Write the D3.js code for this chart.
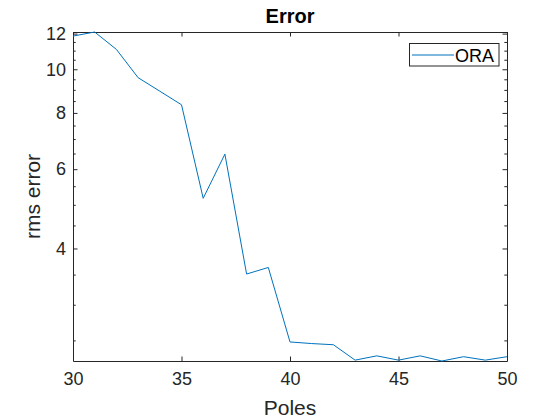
<!DOCTYPE html>
<html lang="en">
	<head>
		<meta charset="utf-8">
		<title>Error</title>
		<script type="text/javascript" src="https://d3js.org/d3.v7.min.js"></script>
		<style type="text/css">
			body { margin: 0; background: #fff; }
			text { font-family: "Liberation Sans", Arial, sans-serif; fill: #262626; }
			.axis path, .axis line { stroke: #262626; }
		</style>
	</head>
	<body>
		<script type="text/javascript">

			// data
			var poles = [30, 31, 32, 33, 34, 35, 36, 37, 38, 39, 40, 41, 42, 43, 44, 45, 46, 47, 48, 49, 50];
			var rmsError = [11.85, 12.1, 11.07, 9.58, 8.94, 8.34, 5.17, 6.48, 3.51, 3.63, 2.48, 2.46, 2.445,
			                2.26, 2.31, 2.26, 2.31, 2.25, 2.30, 2.26, 2.30];
			var xTicks = [30, 35, 40, 45, 50];
			var yTicks = [4, 6, 8, 10, 12];
			var yMinorTicks = [2.5, 3, 3.5, 4.5, 5, 5.5, 6.5, 7, 7.5, 8.5, 9, 9.5, 10.5, 11, 11.5];
			var seriesName = "ORA";

			var w = 560, h = 420;
			var mLeft = 73, mRight = 507, mTop = 32, mBottom = 361;

			var svg = d3.select("body").append("svg")
				.attr("width", w)
				.attr("height", h);

			var x = d3.scaleLinear()
				.domain(d3.extent(poles))
				.range([mLeft, mRight]);

			var y = d3.scaleLog()
				.domain(d3.extent(rmsError))
				.range([mBottom, mTop]);

			var tick = 4.5;

			// minor ticks (left + right)
			svg.append("g").attr("class", "axis")
				.attr("transform", "translate(" + mLeft + ",0)")
				.call(d3.axisLeft(y).tickValues(yMinorTicks).tickSizeInner(-tick * 0.6).tickSizeOuter(0).tickFormat(""))
				.select(".domain").remove();
			svg.append("g").attr("class", "axis")
				.attr("transform", "translate(" + mRight + ",0)")
				.call(d3.axisRight(y).tickValues(yMinorTicks).tickSizeInner(-tick * 0.6).tickSizeOuter(0).tickFormat(""))
				.select(".domain").remove();

			// major axes
			var yAxis = svg.append("g").attr("class", "axis")
				.attr("transform", "translate(" + mLeft + ",0)")
				.call(d3.axisLeft(y).tickValues(yTicks).tickSizeInner(-tick).tickSizeOuter(0).tickPadding(7).tickFormat(d3.format("d")));
			yAxis.selectAll("text").style("font-size", "18px");

			svg.append("g").attr("class", "axis")
				.attr("transform", "translate(" + mRight + ",0)")
				.call(d3.axisRight(y).tickValues(yTicks).tickSizeInner(-tick).tickSizeOuter(0).tickFormat(""));

			var xAxis = svg.append("g").attr("class", "axis")
				.attr("transform", "translate(0," + mBottom + ")")
				.call(d3.axisBottom(x).tickValues(xTicks).tickSizeInner(-tick).tickSizeOuter(0).tickPadding(11).tickFormat(d3.format("d")));
			xAxis.selectAll("text").style("font-size", "18px");

			svg.append("g").attr("class", "axis")
				.attr("transform", "translate(0," + mTop + ")")
				.call(d3.axisTop(x).tickValues(xTicks).tickSizeInner(-tick).tickSizeOuter(0).tickFormat(""));

			// the line
			var line = d3.line()
				.x(function(d, i) { return x(poles[i]); })
				.y(function(d) { return y(d); });

			svg.append("path")
				.datum(rmsError)
				.attr("fill", "none")
				.attr("stroke", "#0072BD")
				.attr("stroke-width", 1)
				.attr("d", line);

			// labels
			svg.append("text")
				.attr("x", (mLeft + mRight) / 2)
				.attr("y", 23)
				.attr("text-anchor", "middle")
				.style("font-size", "20px")
				.style("font-weight", "bold")
				.style("fill", "#000")
				.text("Error");

			svg.append("text")
				.attr("x", (mLeft + mRight) / 2)
				.attr("y", 415)
				.attr("text-anchor", "middle")
				.style("font-size", "21px")
				.text("Poles");

			svg.append("text")
				.attr("transform", "translate(40," + (mTop + mBottom) / 2 + ") rotate(-90)")
				.attr("text-anchor", "middle")
				.style("font-size", "21px")
				.text("rms error");

			// legend
			var lg = svg.append("g");
			lg.append("rect")
				.attr("x", 409.5).attr("y", 43.5)
				.attr("width", 89.5).attr("height", 22.5)
				.attr("fill", "#fff")
				.attr("stroke", "#262626")
				.attr("stroke-width", 1);
			lg.append("line")
				.attr("x1", 412).attr("x2", 454)
				.attr("y1", 55).attr("y2", 55)
				.attr("stroke", "#0072BD")
				.attr("stroke-width", 1);
			lg.append("text")
				.attr("x", 455).attr("y", 61.5)
				.style("font-size", "18px")
				.style("fill", "#000")
				.text(seriesName);
		</script>
	</body>
</html>
